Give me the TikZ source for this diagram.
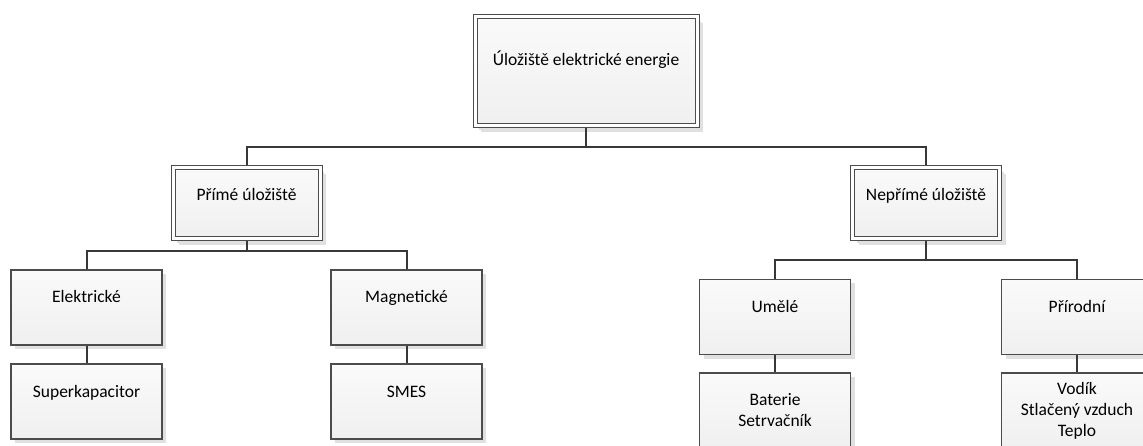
\documentclass[tikz,border=0pt]{standalone}
\usepackage{fontspec}
\setmainfont{Carlito}
\usetikzlibrary{shadows}

\begin{document}
\begin{tikzpicture}[
    x=1pt, y=-1pt,
    box/.style={draw=black!70, line width=1.2pt, top color=black!2, bottom color=black!6,
        drop shadow={shadow xshift=4pt, shadow yshift=-4pt, fill=black!12, opacity=1},
        minimum width=151pt, minimum height=75pt, inner sep=0pt,
        text height=33pt, text depth=42pt, font=\fontsize{17.5}{21}\selectfont},
    mainbox/.style={box, double=white, double distance=3pt, line width=1pt, outer sep=2.5pt,
        drop shadow={shadow xshift=6pt, shadow yshift=-6pt, fill=black!12, opacity=1},
        minimum width=147pt, minimum height=71pt, text height=33pt, text depth=38pt},
    listbox/.style={box, align=center, text height={}, text depth={}},
    conn/.style={draw=black!78, line width=2pt}
]
    \useasboundingbox (0,0) rectangle (1143,446);

    % ---- top level ----
    \node[mainbox, minimum width=222pt, minimum height=109pt, text height=49pt, text depth=60pt]
        (root) at (586,71.5) {Úložiště elektrické energie};
    \node[mainbox] (direct)   at (246.5,203.5) {Přímé úložiště};
    \node[mainbox] (indirect) at (926,203.5)   {Nepřímé úložiště};

    % ================= direct storage =================
    \node[box] (electric) at (86.5,307.5)  {Elektrické};
    \node[box] (magnetic) at (406.5,307.5) {Magnetické};
    \node[box] (supercap) at (86.5,401.5)  {Superkapacitor};
    \node[box] (smes)     at (406.5,401.5) {SMES};

    % ================= indirect storage =================
    \node[box] (artificial) at (775,317)  {Umělé};
    \node[box] (natural)    at (1077,317) {Přírodní};
    \node[listbox] (batteries) at (775,410.5)  {Baterie\\Setrvačník};
    \node[listbox] (natstore)  at (1077,410.5) {Vodík\\Stlačený vzduch\\Teplo};

    % ---- connectors ----
    \foreach \kid in {direct, indirect} {
        \draw[conn] (root.south) -- ++(0,19) -| (\kid.north);
    }
    \foreach \kid in {electric, magnetic} {
        \draw[conn] (direct.south) -- ++(0,10) -| (\kid.north);
    }
    \foreach \kid in {artificial, natural} {
        \draw[conn] (indirect.south) -- ++(0,18.5) -| (\kid.north);
    }
    \draw[conn] (electric) -- (supercap);
    \draw[conn] (magnetic) -- (smes);
    \draw[conn] (artificial) -- (batteries);
    \draw[conn] (natural) -- (natstore);
\end{tikzpicture}
\end{document}
